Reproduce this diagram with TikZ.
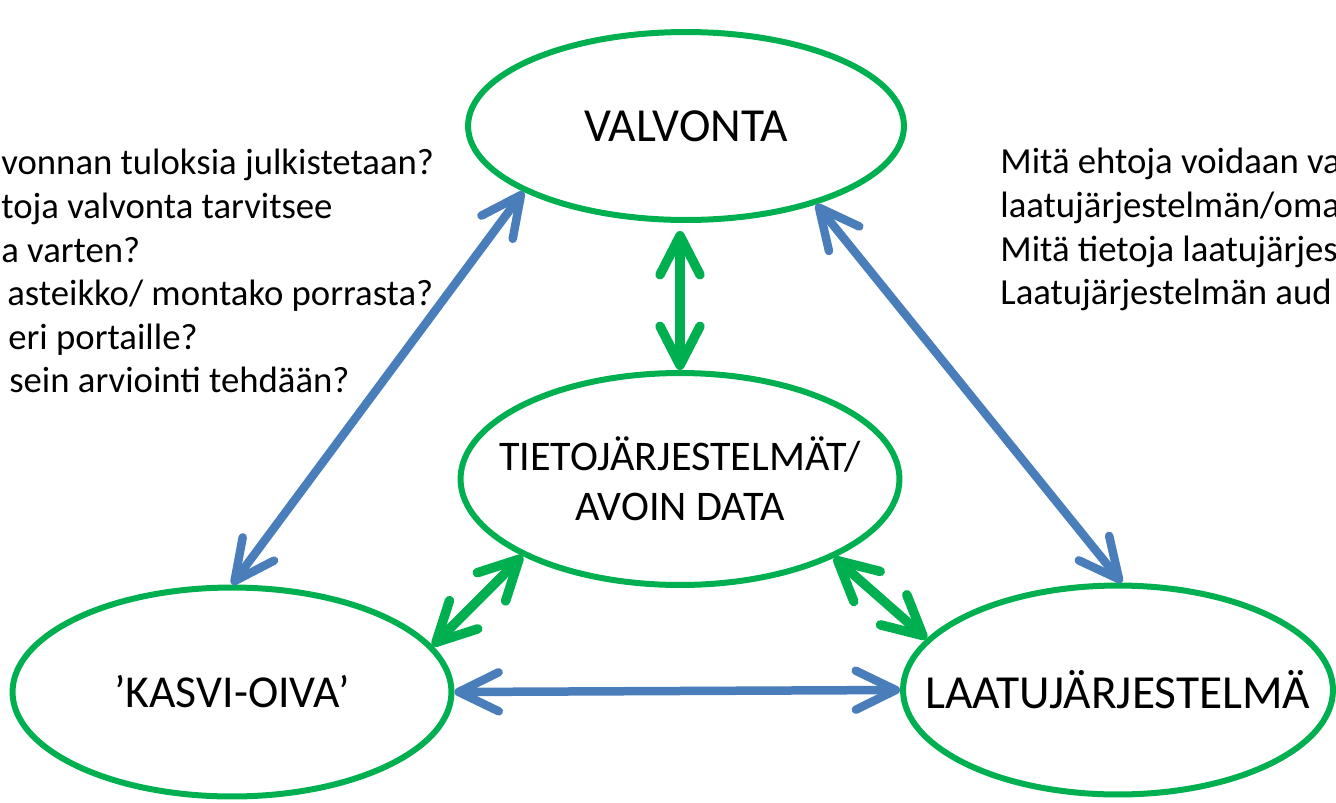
\documentclass[tikz,border=0pt]{standalone}
\usepackage{fontspec}
\setmainfont{Carlito}
\usetikzlibrary{shapes.geometric,arrows.meta}
\definecolor{ringgreen}{HTML}{00B050}
\definecolor{linkblue}{HTML}{4A7EBB}

\begin{document}
\begin{tikzpicture}[x=0.02cm,y=-0.02cm,
	bubble/.style={draw=ringgreen,line width=0.12cm,ellipse,inner sep=-1cm,align=center},
	bluelink/.style={draw=linkblue,line width=0.17cm,{Straight Barb[length=0.8cm,width=0.78cm,round]}-{Straight Barb[length=0.8cm,width=0.78cm,round]}},
	greenlink/.style={draw=ringgreen,line width=0.19cm,{Straight Barb[length=0.78cm,width=0.8cm,round]}-{Straight Barb[length=0.78cm,width=0.8cm,round]}},
	question/.style={anchor=north west,inner sep=0pt,align=left,font=\fontsize{20.9}{24.8}\selectfont}]
	\useasboundingbox (0,0) rectangle (1336,802);
	\clip (0,0) rectangle (1336,802);

	\node[bubble,minimum width=8.72cm,minimum height=3.76cm,font=\fontsize{27}{30}\selectfont] (valvonta) at (686,126) {VALVONTA};
	\node[bubble,minimum width=8.78cm,minimum height=4.24cm,font=\fontsize{24}{28.5}\selectfont] (tieto) at (680,479) {TIETOJÄRJESTELMÄT/\\AVOIN DATA};
	\node[bubble,minimum width=8.78cm,minimum height=4.18cm,font=\fontsize{26}{30}\selectfont] (kasvi) at (232,692) {’KASVI-OIVA’};
	\node[bubble,minimum width=8.6cm,minimum height=4.18cm,font=\fontsize{27}{30}\selectfont] (laatu) at (1118,690) {LAATUJÄRJESTELMÄ};

	\node[question] (kysymyksetA) at (1,149) {vonnan tuloksia julkistetaan?\\toja valvonta tarvitsee\\a varten?\\\hspace*{0.12cm}asteikko/ montako porrasta?\\\hspace*{0.14cm}eri portaille?\\\hspace*{0.16cm}sein arviointi tehdään?};
	\node[question] (kysymyksetB) at (1000,148) {Mitä ehtoja voidaan va\\laatujärjestelmän/oma\\Mitä tietoja laatujärjes\\Laatujärjestelmän aud};

	\draw[bluelink] (valvonta.202.6) -- (kasvi.90);
	\draw[bluelink] (valvonta.329.8) -- (laatu.88);
	\draw[bluelink] (kasvi.east) -- (laatu.west);
	\draw[greenlink] (tieto.north) -- ([yshift=-0.16cm]tieto.north |- valvonta.south);
	\draw[greenlink] (tieto.206.7) -- (kasvi.13.8);
	\draw[greenlink] (tieto.333.3) -- (laatu.165);
\end{tikzpicture}
\end{document}
